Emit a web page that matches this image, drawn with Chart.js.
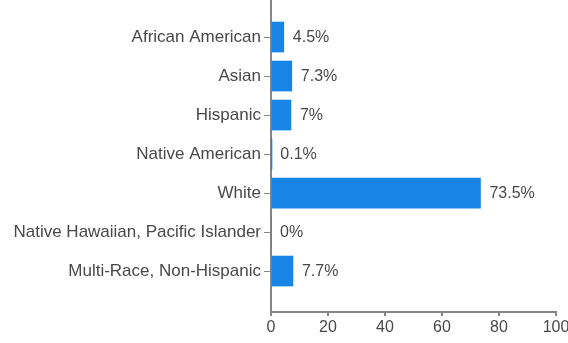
<!DOCTYPE html>
<html>
<head>
<meta charset="utf-8">
<script src="https://cdn.jsdelivr.net/npm/chart.js@4/dist/chart.umd.min.js"></script>
<style>
  html, body { margin: 0; padding: 0; background: #fff; }
  #wrap { width: 568px; height: 343px; }
</style>
</head>
<body>
<div id="wrap"><canvas id="barChart" width="568" height="343"></canvas></div>
<script>
'use strict';

// categories, top to bottom
const categories = ['African American', 'Asian', 'Hispanic', 'Native American', 'White',
    'Native Hawaiian, Pacific Islander', 'Multi-Race, Non-Hispanic'];
// percent of population
const percents = [4.5, 7.3, 7, 0.1, 73.5, 0, 7.7];
// x axis ticks
const xTicks = [0, 20, 40, 60, 80, 100];

const FONT = 'Liberation Sans, Arial, sans-serif';
const TEXT = '#484848';
const AXIS = '#858585';

// the category axis is a linear index axis so the bands sit like the original
const points = percents.map((v, i) => ({ x: v, y: i }));

// write the value after each bar
const valueLabels = {
    id: 'valueLabels',
    afterDatasetsDraw(chart) {
        const ctx = chart.ctx;
        const meta = chart.getDatasetMeta(0);
        ctx.save();
        ctx.font = '16px ' + FONT;
        ctx.fillStyle = TEXT;
        ctx.textBaseline = 'middle';
        ctx.textAlign = 'left';
        meta.data.forEach((bar, i) => {
            ctx.fillText(percents[i] + '%', bar.x + 9, bar.y + 1);
        });
        ctx.restore();
    }
};

const CHART = document.getElementById('barChart');

new Chart(CHART, {
    type: 'bar',
    data: {
        datasets: [{
            data: points,
            backgroundColor: '#1784e6',
            borderWidth: 0,
            barThickness: 30
        }]
    },
    options: {
        indexAxis: 'y',
        responsive: false,
        animation: false,
        layout: { padding: { top: 0, right: 12, bottom: 0, left: 0 } },
        plugins: {
            legend: { display: false },
            tooltip: { enabled: false }
        },
        scales: {
            x: {
                type: 'linear',
                min: xTicks[0],
                max: xTicks[xTicks.length - 1],
                afterBuildTicks: (scale) => { scale.ticks = xTicks.map(v => ({ value: v })); },
                afterFit: (scale) => {
                    scale.height = 31;
                    scale.paddingRight = 0;
                    scale.paddingLeft = 0;
                },
                border: { display: true, color: AXIS, width: 2 },
                grid: { drawOnChartArea: false, drawTicks: true, tickLength: 4, color: AXIS, lineWidth: 2 },
                ticks: { color: TEXT, font: { family: FONT, size: 16 }, padding: 2, maxRotation: 0 }
            },
            y: {
                type: 'linear',
                reverse: true,
                offset: false,
                min: -0.95,
                max: 7.05,
                afterBuildTicks: (scale) => { scale.ticks = categories.map((c, i) => ({ value: i })); },
                afterFit: (scale) => {
                    scale.width = 271;
                    scale.paddingTop = 0;
                    scale.paddingBottom = 0;
                },
                border: { display: true, color: AXIS, width: 2 },
                grid: { offset: false, drawOnChartArea: false, drawTicks: true, tickLength: 7, color: AXIS, lineWidth: 1 },
                ticks: {
                    color: TEXT,
                    font: { family: FONT, size: 17 },
                    padding: 3,
                    callback: (v) => categories[v] !== undefined ? categories[v] : ''
                }
            }
        }
    },
    plugins: [valueLabels]
});
</script>
</body>
</html>
